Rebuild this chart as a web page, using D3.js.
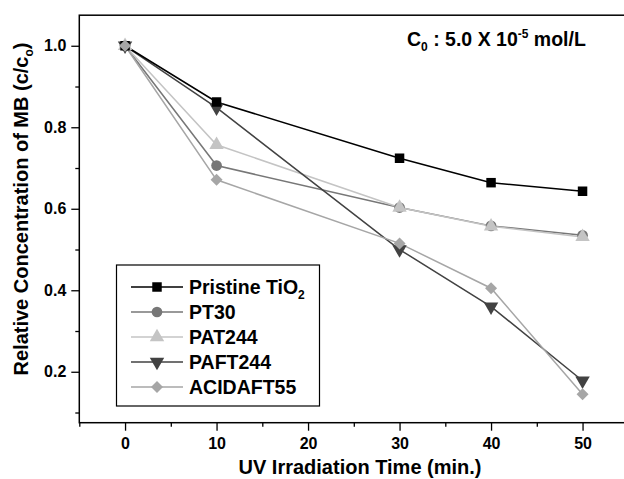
<!DOCTYPE html>
<html lang="en">
<head>
    <meta charset="UTF-8">
    <title>MB degradation</title>
    <script src="https://d3js.org/d3.v7.min.js"></script>
    <style>
        body { margin: 0; background: #fff; }
        text { font-family: "Liberation Sans", Arial, sans-serif; font-weight: bold; fill: #000; }
    </style>
</head>
<body>
    <svg width="624" height="479"></svg>

    <script>
        // data
        var times = [0, 10, 30, 40, 50];
        var pristine = [1.0, 0.862, 0.724, 0.664, 0.643];
        var pt30 = [1.0, 0.706, 0.603, 0.558, 0.535];
        var pat244 = [1.0, 0.757, 0.603, 0.557, 0.531];
        var paft244 = [1.0, 0.848, 0.500, 0.360, 0.178];
        var acidaft55 = [1.0, 0.671, 0.515, 0.405, 0.145];
        var seriesNames = ["Pristine TiO2", "PT30", "PAT244", "PAFT244", "ACIDAFT55"];
        var xTicks = [0, 10, 20, 30, 40, 50];
        var yTicks = [0.2, 0.4, 0.6, 0.8, 1.0];

        var series = [
            {name: seriesNames[0], vals: pristine, color: "#000000", sym: d3.symbolSquare},
            {name: seriesNames[1], vals: pt30, color: "#777777", sym: d3.symbolCircle},
            {name: seriesNames[2], vals: pat244, color: "#c4c4c4", sym: d3.symbolTriangle},
            {name: seriesNames[3], vals: paft244, color: "#424242", sym: "down"},
            {name: seriesNames[4], vals: acidaft55, color: "#a6a6a6", sym: "diamond"}
        ];
        // stacking order of the marks as seen in the figure
        var drawOrder = [1, 2, 3, 0, 4];

        var svg = d3.select("svg");
        var x = d3.scaleLinear().domain([-5, 55]).range([79.3, 628.3]);
        var y = d3.scaleLinear().domain([0.075, 1.075]).range([422.7, 15.2]);

        // frame (right side falls outside the picture)
        svg.append("rect")
            .attr("x", x(-5)).attr("y", y(1.075))
            .attr("width", x(55) - x(-5)).attr("height", y(0.075) - y(1.075))
            .attr("fill", "none").attr("stroke", "#000").attr("stroke-width", 1.5);

        // x axis
        svg.append("g").attr("transform", "translate(0," + y(0.075) + ")")
            .call(d3.axisBottom(x).tickValues(xTicks).tickSize(8).tickPadding(7).tickFormat(d3.format("d")));
        svg.append("g").attr("transform", "translate(0," + y(0.075) + ")")
            .call(d3.axisBottom(x).tickValues([-5, 5, 15, 25, 35, 45]).tickSize(4).tickFormat(""));

        // y axis
        svg.append("g").attr("transform", "translate(" + x(-5) + ",0)")
            .call(d3.axisLeft(y).tickValues(yTicks).tickSize(8).tickPadding(5).tickFormat(d3.format(".1f")));
        svg.append("g").attr("transform", "translate(" + x(-5) + ",0)")
            .call(d3.axisLeft(y).tickValues([0.1, 0.3, 0.5, 0.7, 0.9]).tickSize(4).tickFormat(""));

        svg.selectAll(".domain").remove();
        svg.selectAll(".tick line").attr("stroke", "#000").attr("stroke-width", 1.3);
        svg.selectAll(".tick text")
            .attr("font-size", null).attr("font-family", null)
            .style("font-size", "16px").style("font-family", "Liberation Sans, Arial, sans-serif").style("font-weight", "bold");

        // axis titles
        svg.append("text")
            .attr("x", 360).attr("y", 474)
            .attr("text-anchor", "middle").style("font-size", "20px")
            .text("UV Irradiation Time (min.)");

        var yt = svg.append("text")
            .attr("transform", "translate(28,209) rotate(-90)")
            .attr("text-anchor", "middle").style("font-size", "20px");
        yt.append("tspan").text("Relative Concentration of MB (c/c");
        yt.append("tspan").attr("dy", 5).style("font-size", "12px").text("o");
        yt.append("tspan").attr("dy", -5).text(")");

        // symbols
        function markPath(sym, size) {
            if (sym === "down") {
                var r = Math.sqrt(size / (3 * Math.sqrt(3) / 4));
                return "M" + (-r * 0.866) + "," + (-r / 2) + "L" + (r * 0.866) + "," + (-r / 2) + "L0," + r + "Z";
            }
            if (sym === "diamond") {
                var h = Math.sqrt(size / 2);
                return "M0," + (-h) + "L" + h + ",0L0," + h + "L" + (-h) + ",0Z";
            }
            return d3.symbol().type(sym).size(size)();
        }
        function markSize(sym) {
            return sym === "diamond" ? 72 : 90;
        }

        var line = d3.line().x(function(d, i) { return x(times[i]); }).y(function(d) { return y(d); });

        drawOrder.forEach(function(k) {
            var s = series[k];
            svg.append("path").datum(s.vals)
                .attr("d", line).attr("fill", "none")
                .attr("stroke", s.color).attr("stroke-width", 1.5);
        });
        drawOrder.forEach(function(k) {
            var s = series[k];
            svg.selectAll(null).data(s.vals).enter().append("path")
                .attr("transform", function(d, i) { return "translate(" + x(times[i]) + "," + y(d) + ")"; })
                .attr("d", markPath(s.sym, markSize(s.sym)))
                .attr("fill", s.color);
        });

        // annotation
        var ann = svg.append("text").attr("x", 407).attr("y", 46).style("font-size", "19.5px");
        ann.append("tspan").text("C");
        ann.append("tspan").attr("dy", 5).style("font-size", "12px").text("0");
        ann.append("tspan").attr("dy", -5).text(" : 5.0 X 10");
        ann.append("tspan").attr("dy", -8).style("font-size", "12px").text("-5");
        ann.append("tspan").attr("dy", 8).text(" mol/L");

        // legend
        var lg = svg.append("g");
        lg.append("rect").attr("x", 116.5).attr("y", 265).attr("width", 203).attr("height", 141)
            .attr("fill", "#fff").attr("stroke", "#000").attr("stroke-width", 1.2);
        series.forEach(function(s, i) {
            var cy = 287 + i * 25;
            lg.append("line").attr("x1", 131).attr("x2", 183).attr("y1", cy).attr("y2", cy)
                .attr("stroke", s.color).attr("stroke-width", 1.5);
            lg.append("path").attr("transform", "translate(157," + cy + ")")
                .attr("d", markPath(s.sym, markSize(s.sym))).attr("fill", s.color);
            var t = lg.append("text").attr("x", 189).attr("y", cy + 7).style("font-size", "19.5px");
            if (i === 0) {
                t.append("tspan").text("Pristine TiO");
                t.append("tspan").attr("dy", 5).style("font-size", "12px").text("2");
            } else {
                t.text(s.name);
            }
        });
    </script>
</body>
</html>
